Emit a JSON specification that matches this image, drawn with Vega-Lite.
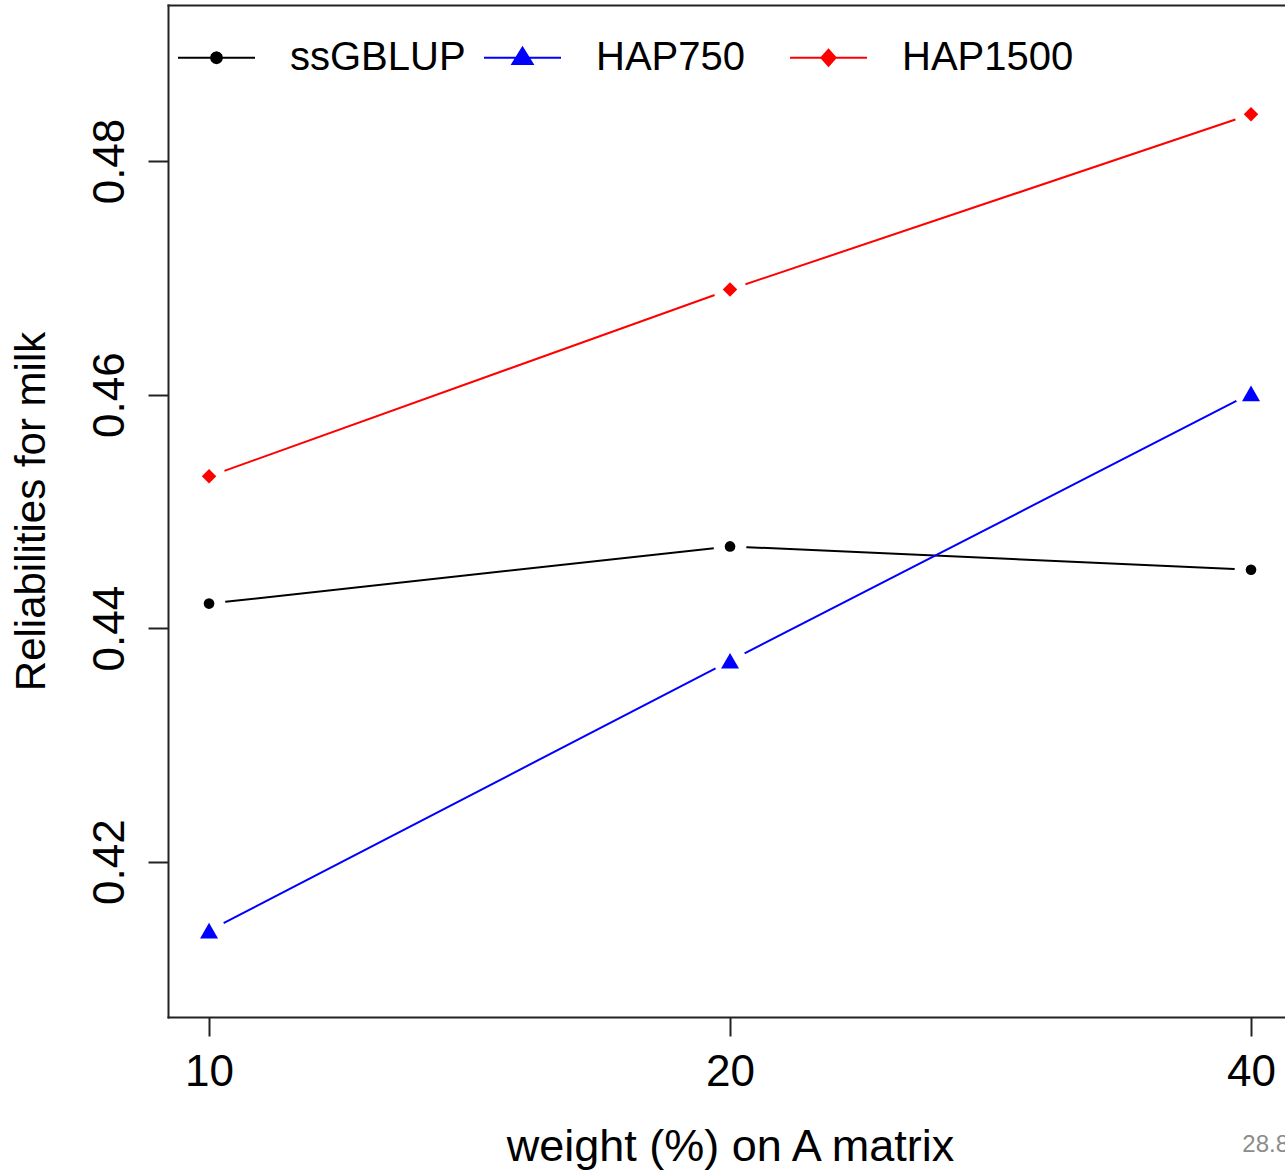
{
  "$schema": "https://vega.github.io/schema/vega-lite/v6.json",
  "width": 1117,
  "height": 1012,
  "autosize": {"type": "none"},
  "padding": {"left": 168, "top": 5, "right": 0, "bottom": 154},
  "background": "white",
  "title": {"text": "28.8", "orient": "bottom", "anchor": "end", "fontSize": 24, "fontWeight": "normal", "color": "#8c8c8c", "font": "Liberation Sans", "offset": -36, "dx": 4},
  "data": {"values": [
    {"weight": 10, "series": "ssGBLUP", "value": 0.4421},
    {"weight": 20, "series": "ssGBLUP", "value": 0.4470},
    {"weight": 40, "series": "ssGBLUP", "value": 0.4450},
    {"weight": 10, "series": "HAP750", "value": 0.4141},
    {"weight": 20, "series": "HAP750", "value": 0.4372},
    {"weight": 40, "series": "HAP750", "value": 0.4601},
    {"weight": 10, "series": "HAP1500", "value": 0.4530},
    {"weight": 20, "series": "HAP1500", "value": 0.4690},
    {"weight": 40, "series": "HAP1500", "value": 0.4840}
  ]},
  "config": {
    "view": {"stroke": null},
    "font": "Liberation Sans",
    "axis": {"grid": false, "labelFont": "Liberation Sans", "titleFont": "Liberation Sans", "labelColor": "black", "titleColor": "black", "titleFontWeight": "normal", "tickColor": "#222", "domainColor": "#222", "tickWidth": 2, "domainWidth": 2, "domainCap": "square", "labelOverlap": false, "labelFlush": false}
  },
  "layer": [
    {
      "transform": [{"filter": "datum.series === 'ssGBLUP'"}],
      "mark": {"type": "line", "strokeWidth": 2, "color": "#000000"},
      "encoding": {
        "x": {"field": "weight", "type": "ordinal", "scale": {"type": "point", "padding": 0.072, "align": 0.547},
              "axis": {"orient": "bottom", "title": "weight (%) on A matrix", "labelAngle": 0, "labelFontSize": 44, "labelPadding": 14, "tickSize": 19, "titleFontSize": 45, "titlePadding": 30, "titleX": 562}},
        "y": {"field": "value", "type": "quantitative", "scale": {"domain": [0.4067, 0.49336], "nice": false, "zero": false},
              "axis": {"orient": "left", "values": [0.42, 0.44, 0.46, 0.48], "format": ".2f", "labelAngle": 270, "labelAlign": "center", "labelBaseline": "bottom", "labelFontSize": 44, "labelPadding": 16, "tickSize": 20, "title": "Reliabilities for milk", "titleFontSize": 42, "titlePadding": 35}}
      }
    },
    {
      "transform": [{"filter": "datum.series === 'HAP750'"}],
      "mark": {"type": "line", "strokeWidth": 2, "color": "#0000ff"},
      "encoding": {
        "x": {"field": "weight", "type": "ordinal", "axis": null},
        "y": {"field": "value", "type": "quantitative", "axis": null}
      }
    },
    {
      "transform": [{"filter": "datum.series === 'HAP1500'"}],
      "mark": {"type": "line", "strokeWidth": 2, "color": "#ff0000"},
      "encoding": {
        "x": {"field": "weight", "type": "ordinal", "axis": null},
        "y": {"field": "value", "type": "quantitative", "axis": null}
      }
    },
    {
      "mark": {"type": "point", "filled": true, "color": "white", "size": 1075, "opacity": 1, "shape": "circle", "strokeWidth": 0},
      "encoding": {
        "x": {"field": "weight", "type": "ordinal", "axis": {"orient": "top", "labels": false, "ticks": false, "title": null, "domain": true}},
        "y": {"field": "value", "type": "quantitative", "axis": null}
      }
    },
    {
      "transform": [{"filter": "datum.series === 'ssGBLUP'"}],
      "mark": {"type": "point", "filled": true, "color": "#000000", "size": 113, "opacity": 1, "shape": "circle", "strokeWidth": 0},
      "encoding": {
        "x": {"field": "weight", "type": "ordinal", "axis": null},
        "y": {"field": "value", "type": "quantitative", "axis": null}
      }
    },
    {
      "transform": [{"filter": "datum.series === 'HAP750'"}],
      "mark": {"type": "point", "filled": true, "color": "#0000ff", "size": 324, "opacity": 1, "shape": "triangle-up", "strokeWidth": 0},
      "encoding": {
        "x": {"field": "weight", "type": "ordinal", "axis": null},
        "y": {"field": "value", "type": "quantitative", "axis": null}
      }
    },
    {
      "transform": [{"filter": "datum.series === 'HAP1500'"}],
      "mark": {"type": "point", "filled": true, "color": "#ff0000", "size": 210, "opacity": 1, "shape": "diamond", "strokeWidth": 0},
      "encoding": {
        "x": {"field": "weight", "type": "ordinal", "axis": null},
        "y": {"field": "value", "type": "quantitative", "axis": null}
      }
    },
    {
      "transform": [{"filter": "datum.weight > 1000"}],
      "mark": {"type": "point", "filled": true, "opacity": 1, "strokeWidth": 0},
      "encoding": {
        "x": {"field": "weight", "type": "ordinal", "axis": null},
        "y": {"field": "value", "type": "quantitative", "axis": null},
        "color": {"field": "series", "type": "nominal", "scale": {"domain": ["ssGBLUP", "HAP750", "HAP1500"], "range": ["#000000", "#0000ff", "#ff0000"]},
                  "legend": {"orient": "none", "legendX": 10, "legendY": 14, "direction": "horizontal", "columns": 3, "gridAlign": "all", "title": null, "symbolSize": 5929, "symbolStrokeWidth": 0, "symbolOpacity": 1, "labelFontSize": 40, "labelFont": "Liberation Sans", "labelColor": "black", "labelOffset": 35, "labelLimit": 400, "columnPadding": 18, "padding": 0}},
        "shape": {"field": "series", "type": "nominal", "scale": {"domain": ["ssGBLUP", "HAP750", "HAP1500"], "range": [
          "M-1,-0.026H1V0.026H-1ZM0.169,0L0.146,0.0845L0.0845,0.146L0,0.169L-0.0845,0.146L-0.146,0.0845L-0.169,0L-0.146,-0.0845L-0.0845,-0.146L0,-0.169L0.0845,-0.146L0.146,-0.0845Z",
          "M-1,-0.026H1V0.026H-1ZM0,-0.31L0.31,0.19L-0.31,0.19Z",
          "M-1,-0.026H1V0.026H-1ZM0,-0.247L0.22,0L0,0.247L-0.22,0Z"
        ]},
                  "legend": {"orient": "none", "legendX": 10, "legendY": 14, "direction": "horizontal", "columns": 3, "gridAlign": "all", "title": null, "symbolSize": 5929, "symbolStrokeWidth": 0, "symbolOpacity": 1, "labelFontSize": 40, "labelFont": "Liberation Sans", "labelColor": "black", "labelOffset": 35, "labelLimit": 400, "columnPadding": 18, "padding": 0}}
      }
    }
  ],
  "resolve": {"axis": {"x": "independent", "y": "independent"}}
}
